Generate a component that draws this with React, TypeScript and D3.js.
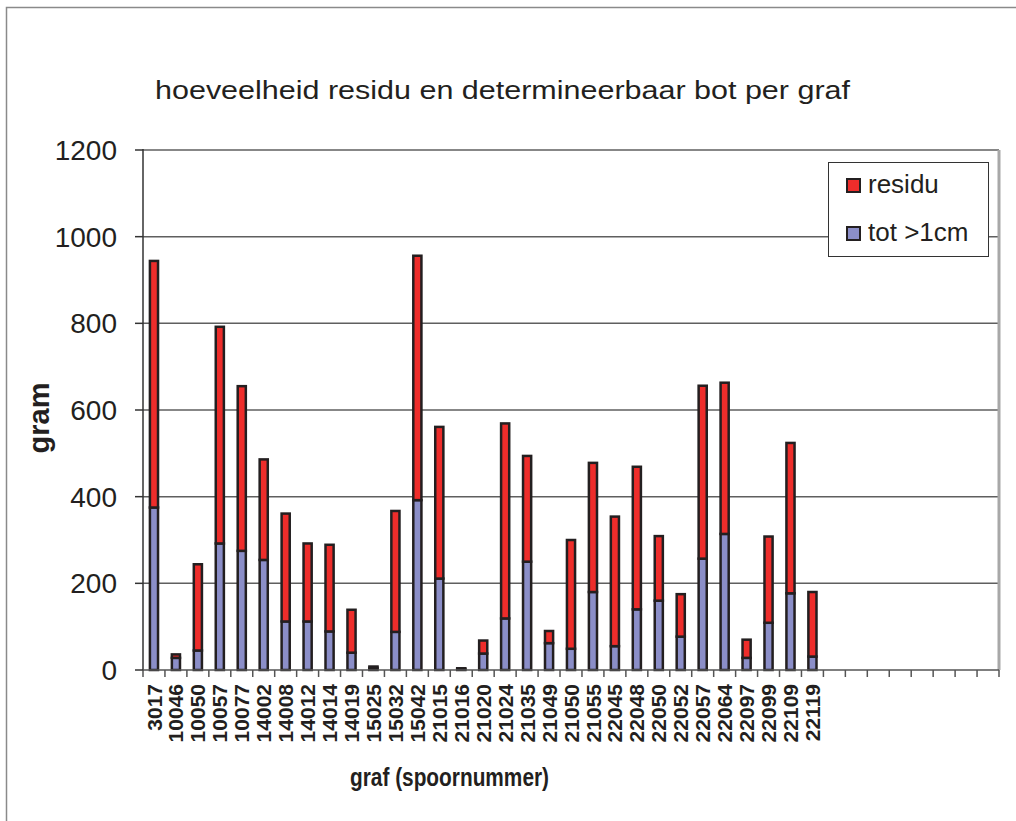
import React from "react";
import { scaleBand, scaleLinear, stack } from "d3";

// spoornummers (graf); the last 8 categories are empty in the sheet
const graven = [
  "3017", "10046", "10050", "10057", "10077", "14002", "14008", "14012",
  "14014", "14019", "15025", "15032", "15042", "21015", "21016", "21020",
  "21024", "21035", "21049", "21050", "21055", "22045", "22048", "22050",
  "22052", "22057", "22064", "22097", "22099", "22109", "22119",
  "", "", "", "", "", "", "", "",
];

// gram bot > 1cm (blue, bottom segment)
const totOver1cm = [
  375, 28, 45, 292, 275, 254, 112, 112, 89, 40, 5, 88, 392, 211, 2, 38,
  119, 250, 62, 49, 180, 55, 140, 160, 77, 257, 314, 28, 109, 177, 31,
];

// gram residu (red, top segment)
const residu = [
  569, 8, 199, 500, 380, 232, 249, 180, 200, 99, 3, 279, 564, 350, 2, 30,
  450, 244, 28, 251, 298, 299, 329, 149, 98, 399, 349, 42, 199, 347, 149,
];

const yTicks = [0, 200, 400, 600, 800, 1000, 1200];

const series = [
  { key: "tot", label: "tot >1cm", color: "#8B8EC8" },
  { key: "residu", label: "residu", color: "#EE2D2B" },
];

const FONT = "'Liberation Sans', Arial, Helvetica, sans-serif";

export default function App() {
  const width = 1016;
  const height = 821;
  const plot = { left: 143, right: 999, top: 150, bottom: 670 };

  const x = scaleBand<number>()
    .domain(graven.map((_, i) => i))
    .range([plot.left, plot.right])
    .padding(0);
  const y = scaleLinear().domain([0, 1200]).range([plot.bottom, plot.top]);

  const rows = totOver1cm.map((t, i) => ({ idx: i, tot: t, residu: residu[i] }));
  const layers = stack<any>().keys(["tot", "residu"])(rows);

  const step = x.step();
  const barW = step * 0.37;

  return (
    <svg
      width={width}
      height={height}
      style={{ position: "absolute", left: 0, top: 0, background: "#fff" }}
      fontFamily={FONT}
    >
      {/* chart frame */}
      <rect x={6.5} y={7.5} width={width + 20} height={height + 20} fill="#fff" stroke="#8a8a8a" strokeWidth={1.5} />

      <text
        x={155}
        y={99}
        fontSize={25}
        fill="#231F20"
        textLength={695}
        lengthAdjust="spacingAndGlyphs"
      >
        hoeveelheid residu en determineerbaar bot per graf
      </text>

      {/* gridlines */}
      {yTicks.slice(1).map((t) => (
        <line key={t} x1={plot.left} x2={plot.right} y1={y(t)} y2={y(t)} stroke="#5f5f5f" strokeWidth={1.5} />
      ))}
      <line x1={plot.right} x2={plot.right} y1={plot.top} y2={plot.bottom} stroke="#a8a8a8" strokeWidth={3} />

      {/* y axis */}
      <line x1={plot.left} x2={plot.left} y1={plot.top - 1} y2={plot.bottom + 1} stroke="#333" strokeWidth={1.5} />
      {yTicks.map((t) => (
        <g key={t}>
          <line x1={plot.left - 8} x2={plot.left} y1={y(t)} y2={y(t)} stroke="#333" strokeWidth={1.5} />
          <text x={117} y={y(t)} dy="0.36em" textAnchor="end" fontSize={28} fill="#231F20">
            {t}
          </text>
        </g>
      ))}
      <text
        transform={`translate(49, 418) rotate(-90)`}
        textAnchor="middle"
        fontSize={29}
        fontWeight="bold"
        fill="#231F20"
      >
        gram
      </text>

      {/* bars */}
      {layers.map((layer, li) => (
        <g key={layer.key} fill={series[li].color} stroke="#231F20" strokeWidth={2.5}>
          {layer.map((d: any) => (
            <rect
              key={d.data.idx}
              x={(x(d.data.idx) as number) + (step - barW) / 2}
              y={y(d[1])}
              width={barW}
              height={Math.max(0, y(d[0]) - y(d[1]))}
            />
          ))}
        </g>
      ))}

      {/* x axis */}
      <line x1={plot.left} x2={plot.right} y1={plot.bottom} y2={plot.bottom} stroke="#555" strokeWidth={1.5} />
      {graven.map((_, i) => (
        <line
          key={"t" + i}
          x1={(x(i) as number)}
          x2={(x(i) as number)}
          y1={plot.bottom}
          y2={plot.bottom + 7}
          stroke="#555"
          strokeWidth={1.5}
        />
      ))}
      <line x1={plot.right} x2={plot.right} y1={plot.bottom} y2={plot.bottom + 7} stroke="#555" strokeWidth={1.5} />
      {graven.map((g, i) => (
        <text
          key={"l" + i}
          transform={`translate(${(x(i) as number) + step / 2}, 684) rotate(-90)`}
          dy="0.36em"
          textAnchor="end"
          fontSize={21}
          fontWeight="bold"
          fill="#231F20"
        >
          {g}
        </text>
      ))}
      <text
        x={350}
        y={786}
        fontSize={25}
        fontWeight="bold"
        fill="#231F20"
        textLength={199}
        lengthAdjust="spacingAndGlyphs"
      >
        graf (spoornummer)
      </text>

      {/* legend */}
      <g>
        <rect x={828.5} y={162.5} width={160} height={94} fill="#fff" stroke="#333" strokeWidth={1} />
        {[series[1], series[0]].map((s, i) => (
          <g key={s.key} transform={`translate(847, ${179 + i * 48})`}>
            <rect width={13} height={13} fill={s.color} stroke="#231F20" strokeWidth={2} />
            <text x={21} y={14} fontSize={26} fill="#231F20">
              {s.label}
            </text>
          </g>
        ))}
      </g>
    </svg>
  );
}
